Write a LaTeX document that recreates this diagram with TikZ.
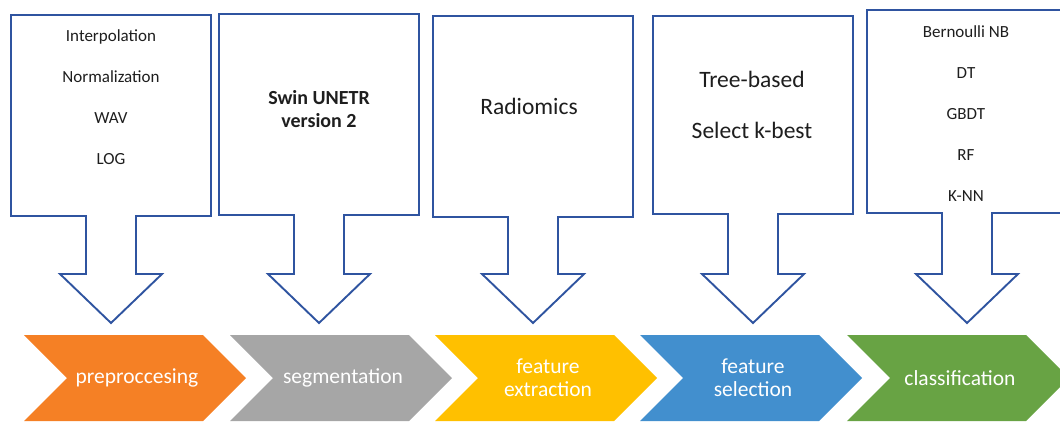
\documentclass[tikz,border=0pt]{standalone}
\usepackage{fontspec}
\setmainfont{Carlito}
\usepackage{tikz}

\definecolor{callblue}{RGB}{47,84,160}
\definecolor{stOrange}{RGB}{245,128,37}
\definecolor{stGray}{RGB}{166,166,166}
\definecolor{stYellow}{RGB}{255,192,0}
\definecolor{stBlue}{RGB}{66,143,206}
\definecolor{stGreen}{RGB}{104,163,68}
\definecolor{txt}{RGB}{30,30,30}

\tikzset{
  callout/.style={draw=callblue,line width=1.9pt,fill=white,line join=miter},
  listtxt/.style={text=txt,align=center,inner sep=0pt,font=\fontsize{17}{41}\selectfont},
  bigtxt/.style={text=txt,align=center,inner sep=0pt,font=\fontsize{23.5}{51}\selectfont},
  steptxt/.style={text=white,align=center,inner sep=0pt,font=\fontsize{21.5}{23}\selectfont}
}

\begin{document}
\begin{tikzpicture}[x=1pt,y=-1pt]
\useasboundingbox (0,0) rectangle (1060,421);

% block arrows above the stages: centre / box top / box bottom
\foreach \c/\t/\b in {111/15/216, 319/14/215, 533/16/217, 753/16/214, 967/10/213} {
\draw[callout] (\c-100,\t) -- (\c+100,\t) -- (\c+100,\b) -- (\c+25,\b) -- (\c+25,274)
  -- (\c+51,274) -- (\c,323) -- (\c-51,274) -- (\c-25,274) -- (\c-25,\b) -- (\c-100,\b) -- cycle;
}

% chevrons of the pipeline
\foreach \a/\col in {24/stOrange, 230/stGray, 435/stYellow, 640/stBlue, 847/stGreen} {
\fill[\col] (\a,335) -- ++(179,0) -- ++(43,43) -- ++(-43,43) -- ++(-179,0) -- ++(43,-43) -- cycle;
}

\node[steptxt] (prep) at (137,378) {preproccesing};
\node[steptxt] (seg)  at (343,378) {segmentation};
\node[steptxt] (fext) at (548,377.5) {feature\\extraction};
\node[steptxt] (fsel) at (753,377.5) {feature\\selection};
\node[steptxt] (clf)  at (960,378) {classification};

% what goes into each stage
\node[listtxt] (prepList) at (111,97.5) {Interpolation\\Normalization\\WAV\\LOG};
\node[text=txt,align=center,inner sep=0pt,font=\fontsize{20}{23}\bfseries\selectfont] (segNet) at (319,109.5) {Swin UNETR\\version 2};
\node[bigtxt] (fextTool) at (529,106) {Radiomics};
\node[bigtxt] (fselList) at (752,104.5) {Tree-based\\Select k-best};
\node[listtxt] (clfList) at (966,114) {Bernoulli NB\\DT\\GBDT\\RF\\K-NN};
\end{tikzpicture}
\end{document}
